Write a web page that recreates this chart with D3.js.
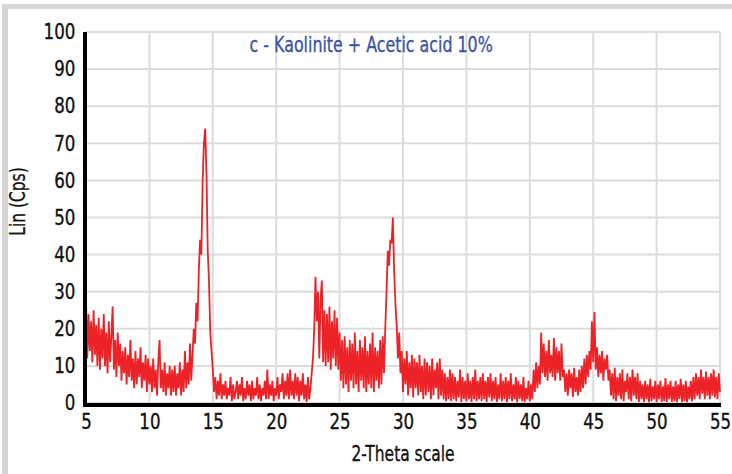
<!DOCTYPE html>
<html>
<head>
<meta charset="utf-8">
<script src="https://cdn.jsdelivr.net/npm/d3@7"></script>
<style>
  body { margin: 0; background: #fff; }
  svg text { font-family: "DejaVu Sans Condensed", "DejaVu Sans", sans-serif; font-stretch: condensed; }
</style>
</head>
<body>
<div class="xrd-chart"></div>
<script>
// XRD scan: 2-theta from 5 to 55 deg, one reading every 0.1 deg
const scanStart = 5;
const scanStep = 0.1;
const intensity = [
  28, 12, 24, 14, 22, 11, 25, 13, 21, 10,
  23, 9, 20, 12, 24, 10, 19, 8, 22, 11,
  18, 26, 9, 17, 7, 19, 10, 16, 6, 14,
  8, 15, 5, 13, 7, 17, 6, 12, 4, 14,
  5, 12, 7, 15, 4, 11, 6, 13, 3, 12,
  5, 10, 3, 12, 4, 9, 2, 11, 17, 4,
  9, 3, 11, 2, 8, 4, 10, 2, 9, 3,
  10, 2, 8, 4, 11, 2, 9, 3, 14, 4,
  11, 5, 16, 6, 13, 20, 16, 27, 22, 36,
  44, 40, 60, 70, 74, 62, 41, 33, 19, 14,
  9, 3, 7, 1, 6, 2, 8, 1, 5, 2,
  6, 1, 4, 2, 7, 0.5, 5, 1, 3, 6,
  1, 5, 2, 7, 0.5, 4, 1, 6, 2, 5,
  0.5, 6, 1, 4, 2, 7, 1, 5, 0.5, 4,
  2, 6, 1, 9, 1, 5, 2, 6, 0.5, 4,
  2, 7, 1, 5, 3, 8, 1, 6, 2, 8,
  1, 9, 2, 6, 1, 8, 2, 7, 0.5, 6,
  2, 8, 1, 5, 0.3, 7, 1, 4, 8, 12,
  20, 34, 22, 30, 12, 28, 33, 11, 25, 10,
  24, 11, 26, 9, 22, 12, 25, 10, 23, 9,
  19, 6, 17, 4, 18, 5, 15, 3, 17, 6,
  16, 4, 19, 5, 14, 3, 17, 6, 15, 4,
  18, 3, 14, 5, 16, 4, 19, 3, 15, 6,
  14, 4, 17, 5, 18, 8, 20, 30, 41, 37,
  44, 43, 50, 36, 27, 21, 12, 19, 8, 14,
  3, 12, 5, 14, 2, 11, 4, 13, 1.5, 12,
  4, 11, 2, 13, 3, 10, 1, 12, 2, 11,
  3, 10, 1, 12, 2, 9, 4, 11, 1, 12,
  2, 9, 1, 8, 0.5, 7, 1, 9, 0.5, 8,
  1, 7, 0.5, 6, 1.5, 9, 0.3, 7, 1, 6,
  0.5, 8, 1, 6, 0.3, 7, 1, 9, 0.5, 6,
  1, 7, 0.5, 8, 1, 6, 0.3, 7, 1.5, 8,
  0.5, 6, 1, 7, 0.3, 5, 1, 8, 0.5, 6,
  1, 7, 0.3, 6, 1, 8, 0.5, 5, 1, 7,
  0.3, 6, 1, 5, 0.5, 7, 0.3, 4, 1, 6,
  0.5, 5, 1, 9, 3, 11, 4, 10, 5, 19,
  8, 16, 7, 14, 6, 17, 8, 13, 7, 17.5,
  6, 15, 8, 14, 6, 16, 7, 9, 3, 8,
  2, 9, 4, 8, 1.6, 9.5, 3, 7, 2, 9,
  3, 10, 4, 12, 5, 13, 7, 14, 9, 22,
  11, 24.5, 9, 15, 7, 13, 8, 14, 6, 12,
  9, 13, 6, 9, 2, 8, 1, 9.5, 0.5, 7,
  2, 8, 1, 9, 0.5, 6, 3, 8, 1, 7,
  0.5, 9, 2, 7, 1, 8, 0.3, 6, 1, 5,
  0.3, 6, 1, 5, 0.2, 6.5, 0.5, 4.5, 1, 6,
  0.2, 5, 1, 6, 0.3, 4.5, 0.5, 6.7, 0.2, 5,
  1, 6, 0.3, 4.5, 0.5, 6, 0.2, 5, 1, 6.5,
  0.3, 5, 0.5, 6, 0.2, 4.5, 1, 6, 0.5, 7,
  1, 8, 2, 7, 1, 9, 2.5, 7, 1, 8.5,
  2, 7, 1, 8, 2, 9, 1.5, 7, 1, 8,
  3
];

const xTicks = [5, 10, 15, 20, 25, 30, 35, 40, 45, 50, 55];
const yTicks = [0, 10, 20, 30, 40, 50, 60, 70, 80, 90, 100];
const chartTitle = "c - Kaolinite + Acetic acid 10%";
const xTitle = "2-Theta scale";
const yTitle = "Lin (Cps)";

//畫布尺寸
const svg_width = 732;
const svg_height = 474;
const margin = { top: 32, right: 12, bottom: 71, left: 86 };
const plot_width = svg_width - margin.left - margin.right;
const plot_height = svg_height - margin.top - margin.bottom;

const svg = d3.select('.xrd-chart').append('svg')
    .attr('width', svg_width).attr('height', svg_height);

//灰色外框
svg.append('rect').attr('x', 2).attr('y', 4).attr('width', svg_width - 2).attr('height', 5).attr('fill', '#d6d6d6');
svg.append('rect').attr('x', 2).attr('y', 4).attr('width', 6).attr('height', svg_height - 4).attr('fill', '#d6d6d6');

const g = svg.append('g').attr('transform', `translate(${margin.left},${margin.top})`);

const X_scale = d3.scaleLinear([5, 55], [0, plot_width]);
const Y_scale = d3.scaleLinear([0, 100], [plot_height, 0]);

//格線
g.append('g').selectAll('line').data(xTicks).join('line')
    .attr('x1', d => X_scale(d)).attr('x2', d => X_scale(d))
    .attr('y1', 0).attr('y2', plot_height)
    .attr('stroke', '#dcdcdc').attr('stroke-width', 2);
g.append('g').selectAll('line').data(yTicks).join('line')
    .attr('x1', 0).attr('x2', plot_width)
    .attr('y1', d => Y_scale(d)).attr('y2', d => Y_scale(d))
    .attr('stroke', '#dcdcdc').attr('stroke-width', 2);

//資料線
const line = d3.line()
    .x((d, i) => X_scale(scanStart + i * scanStep))
    .y(d => Y_scale(d));
g.append('path').datum(intensity)
    .attr('d', line)
    .attr('fill', 'none')
    .attr('stroke', '#ec2227')
    .attr('stroke-width', 1.8)
    .attr('stroke-linejoin', 'bevel');

//座標軸
const xAxis = d3.axisBottom(X_scale).tickValues(xTicks).tickSize(0).tickPadding(9);
const yAxis = d3.axisLeft(Y_scale).tickValues(yTicks).tickSize(0).tickPadding(11);

const xAxisDraw = g.append('g').attr('transform', `translate(0,${plot_height + 2})`).call(xAxis);
const yAxisDraw = g.append('g').attr('transform', 'translate(-1,0)').call(yAxis);

xAxisDraw.select('.domain').attr('stroke', '#000').attr('stroke-width', 4)
    .attr('d', `M-3,0H${plot_width + 1}`);
yAxisDraw.select('.domain').attr('stroke', '#000').attr('stroke-width', 4)
    .attr('d', `M0,0V${plot_height + 4}`);

//刻度文字(窄體)
g.selectAll('.tick text').attr('font-size', '21px').attr('fill', '#111')
    .attr('stroke', '#111').attr('stroke-width', 0.35)
    .attr('transform', 'scale(0.88,1)')
    .style('font-family', '"DejaVu Sans Condensed", "DejaVu Sans", sans-serif');

//標題
g.append('text').attr('transform', `translate(${X_scale(17.9)},20) scale(0.84,1)`)
    .attr('fill', '#3b54a5').attr('stroke', '#3b54a5').attr('stroke-width', 0.3)
    .attr('font-size', '21px')
    .text(chartTitle);
g.append('text').attr('transform', `translate(${X_scale(30)},${plot_height + 58}) scale(0.82,1)`)
    .attr('text-anchor', 'middle').attr('font-size', '21px')
    .attr('fill', '#111').attr('stroke', '#111').attr('stroke-width', 0.3)
    .text(xTitle);
g.append('text').attr('transform', `translate(${-61},${plot_height / 2 - 16}) rotate(-90) scale(0.82,1)`)
    .attr('text-anchor', 'middle').attr('font-size', '21px')
    .attr('fill', '#111').attr('stroke', '#111').attr('stroke-width', 0.3)
    .text(yTitle);
</script>
</body>
</html>
